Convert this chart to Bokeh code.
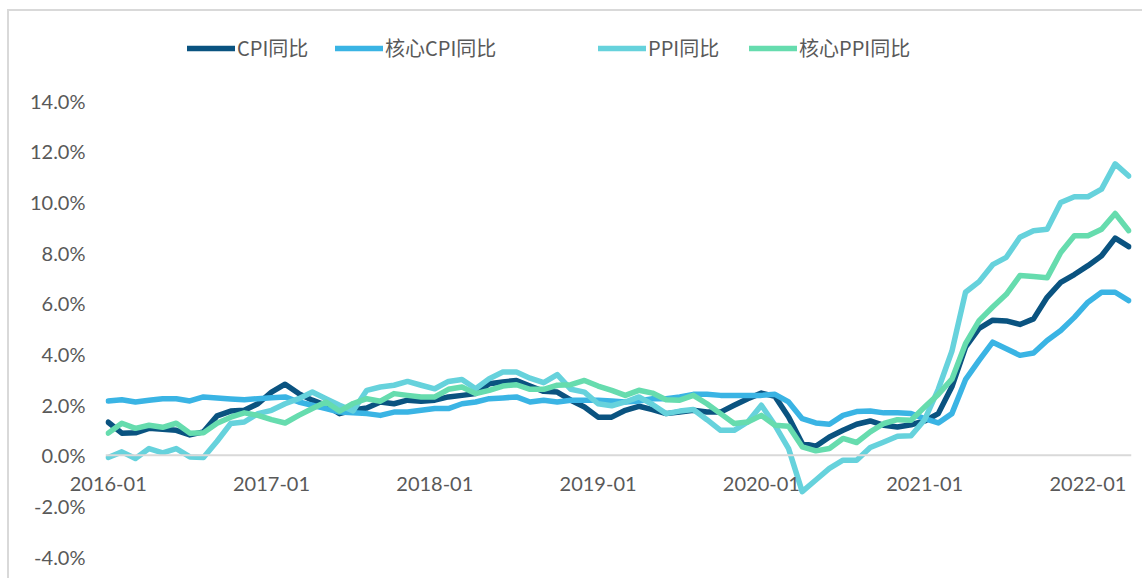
from bokeh.plotting import figure
from bokeh.models import Range1d, FixedTicker, Legend, LegendItem, PrintfTickFormatter, Span
from bokeh.embed import file_html
from bokeh.resources import INLINE

months = [f"{y}-{m:02d}" for y in range(2016, 2023) for m in range(1, 13)][:76]

cpi = [1.30, 0.87, 0.88, 1.06, 1.02, 0.98, 0.80, 0.92, 1.55, 1.74, 1.77, 2.03,
       2.49, 2.80, 2.43, 2.17, 1.97, 1.64, 1.78, 1.86, 2.10, 2.03, 2.17, 2.13,
       2.17, 2.30, 2.36, 2.43, 2.82, 2.89, 2.95, 2.73, 2.52, 2.49, 2.17, 1.90,
       1.50, 1.50, 1.77, 1.93, 1.80, 1.64, 1.70, 1.77, 1.70, 1.70, 1.97, 2.23,
       2.45, 2.32, 1.51, 0.46, 0.35, 0.72, 0.98, 1.22, 1.35, 1.18, 1.11, 1.20,
       1.35, 1.64, 2.70, 4.26, 5.00, 5.33, 5.30, 5.16, 5.38, 6.23, 6.82, 7.13,
       7.48, 7.87, 8.57, 8.23]

core_cpi = [2.14, 2.19, 2.10, 2.17, 2.23, 2.23, 2.14, 2.30, 2.26, 2.22, 2.19, 2.23,
            2.27, 2.30, 2.10, 1.97, 1.84, 1.70, 1.67, 1.64, 1.57, 1.70, 1.70, 1.77,
            1.84, 1.84, 2.03, 2.10, 2.23, 2.26, 2.30, 2.10, 2.17, 2.10, 2.17, 2.17,
            2.17, 2.14, 2.10, 2.14, 2.23, 2.23, 2.30, 2.40, 2.40, 2.36, 2.36, 2.36,
            2.36, 2.40, 2.10, 1.44, 1.27, 1.22, 1.57, 1.72, 1.74, 1.67, 1.67, 1.64,
            1.44, 1.27, 1.64, 2.98, 3.74, 4.46, 4.20, 3.94, 4.03, 4.53, 4.92, 5.44,
            6.04, 6.43, 6.43, 6.10]

ppi = [-0.09, 0.13, -0.13, 0.26, 0.09, 0.26, -0.07, -0.09, 0.55, 1.25, 1.31, 1.64,
       1.77, 2.03, 2.23, 2.49, 2.23, 1.97, 1.75, 2.56, 2.69, 2.76, 2.91, 2.76,
       2.62, 2.91, 2.99, 2.62, 3.02, 3.28, 3.28, 3.04, 2.86, 3.18, 2.60, 2.49,
       2.03, 1.95, 2.10, 2.30, 2.00, 1.64, 1.74, 1.80, 1.40, 0.98, 0.98, 1.31,
       1.97, 1.18, 0.26, -1.44, -0.98, -0.52, -0.20, -0.20, 0.30, 0.52, 0.75, 0.77,
       1.40, 2.60, 4.10, 6.43, 6.85, 7.52, 7.81, 8.60, 8.86, 8.92, 9.97, 10.20,
       10.20, 10.50, 11.50, 11.02]

core_ppi = [0.87, 1.26, 1.06, 1.18, 1.10, 1.26, 0.87, 0.88, 1.26, 1.50, 1.67, 1.57,
            1.40, 1.27, 1.57, 1.84, 2.10, 1.74, 2.04, 2.23, 2.13, 2.43, 2.36, 2.30,
            2.30, 2.60, 2.69, 2.43, 2.56, 2.73, 2.78, 2.60, 2.60, 2.76, 2.78, 2.95,
            2.73, 2.56, 2.36, 2.56, 2.45, 2.19, 2.17, 2.36, 2.03, 1.64, 1.25, 1.31,
            1.57, 1.18, 1.14, 0.33, 0.17, 0.26, 0.66, 0.50, 0.92, 1.25, 1.40, 1.38,
            1.90, 2.40, 3.00, 4.40, 5.31, 5.85, 6.35, 7.09, 7.05, 7.00, 8.00, 8.66,
            8.66, 8.92, 9.54, 8.86]

series_names = ["CPI同比", "核心CPI同比", "PPI同比", "核心PPI同比"]
series_values = [cpi, core_cpi, ppi, core_ppi]
series_colors = ["#0A5380", "#3AB4E4", "#66D2DC", "#66DCAE"]

y_ticks = [-4, -2, 0, 2, 4, 6, 8, 10, 12, 14]
x_tick_labels = ["2016-01", "2017-01", "2018-01", "2019-01", "2020-01", "2021-01", "2022-01"]

idx = list(range(len(months)))
x_ticks = [months.index(t) for t in x_tick_labels]

# layout (page pixels)
ORIG_X, ORIG_Y = 9, 11          # figure content origin after css margin + border
W, H = 1135, 569
BL, BR, BT, BB = 96, 13, 19, 24  # min borders
frame_left = ORIG_X + BL
frame_top = ORIG_Y + BT
frame_bottom = ORIG_Y + H - BB
px_per_unit = (frame_bottom - 100) / 18.0   # 14% sits at page y=100
y_top = -4 + (frame_bottom - frame_top) / px_per_unit

p = figure(width=W, height=H, output_backend="svg", toolbar_location=None,
           x_range=Range1d(-0.2, len(months) - 0.8), y_range=Range1d(-4, y_top),
           min_border_left=BL, min_border_right=BR, min_border_top=BT, min_border_bottom=BB)
p.styles = {"margin-left": "7px", "margin-top": "9px",
            "border-left": "2px solid #D9D9D9", "border-top": "2px solid #D9D9D9"}
p.outline_line_color = None
p.xgrid.visible = False
p.ygrid.visible = False

p.add_layout(Span(location=0, dimension="width", line_color="#D9D9D9", line_width=2))

renderers = []
for vals, col in zip(series_values, series_colors):
    r = p.line(idx, vals, line_color=col, line_width=5.5, line_join="round", line_cap="round")
    renderers.append(r)

font = "Lato"
p.yaxis.ticker = FixedTicker(ticks=y_ticks)
p.yaxis.formatter = PrintfTickFormatter(format="%.1f%%")
p.yaxis.axis_line_color = None
p.yaxis.major_tick_line_color = None
p.yaxis.minor_tick_line_color = None
p.yaxis.major_label_text_font = font
p.yaxis.major_label_text_font_size = "20px"
p.yaxis.major_label_text_color = "#595959"
p.yaxis.major_label_standoff = 14

p.xaxis.ticker = FixedTicker(ticks=x_ticks)
p.xaxis.major_label_overrides = {i: lab for i, lab in zip(x_ticks, x_tick_labels)}
p.xaxis.axis_line_color = None
p.xaxis.major_tick_line_color = None
p.xaxis.minor_tick_line_color = None
p.xaxis.major_label_text_font = font
p.xaxis.major_label_text_font_size = "20px"
p.xaxis.major_label_text_color = "#595959"
p.xaxis.major_label_standoff = -86

item_x = [187, 335, 598, 749]
for name, r, xp in zip(series_names, renderers, item_x):
    lg = Legend(items=[LegendItem(label=name, renderers=[r])],
                location=(xp - frame_left, frame_bottom - 62),
                orientation="horizontal", border_line_color=None,
                background_fill_alpha=0, padding=0, margin=0,
                glyph_width=48, glyph_height=24, label_height=24, label_standoff=2,
                label_text_font="Noto Sans CJK SC", label_text_font_size="20px",
                label_text_color="#595959")
    p.add_layout(lg, "center")

open("out.html", "w").write(file_html(p, INLINE))
